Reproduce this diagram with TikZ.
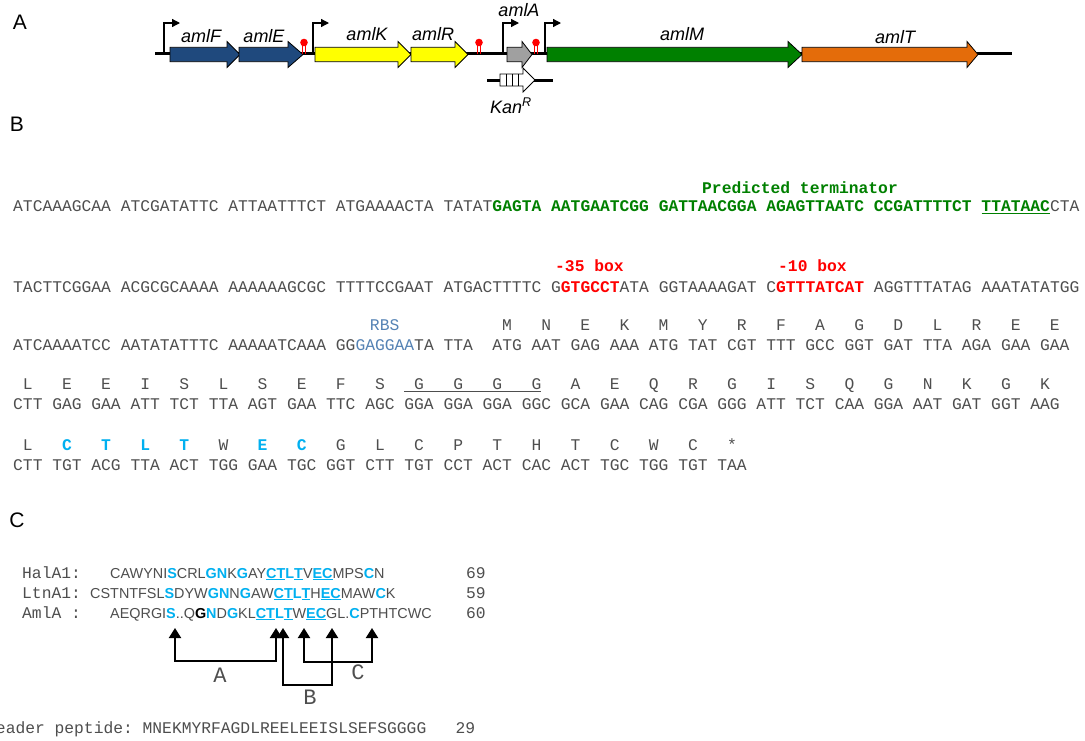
\documentclass[tikz,border=0pt]{standalone}
\usepackage{fontspec}
\setmainfont{Liberation Serif}
\setsansfont{Liberation Sans}
\setmonofont{Liberation Mono}
\usetikzlibrary{arrows.meta}
\definecolor{seqgray}{RGB}{78,78,78}
\definecolor{tgreen}{RGB}{0,128,0}
\definecolor{tred}{RGB}{255,0,0}
\definecolor{aablue}{RGB}{0,176,240}
\definecolor{rbsblue}{RGB}{84,130,180}
\definecolor{genblue}{RGB}{31,73,125}
\definecolor{genyellow}{RGB}{255,255,0}
\definecolor{gengray}{RGB}{160,160,160}
\definecolor{gengreen}{RGB}{0,128,0}
\definecolor{genorange}{RGB}{228,108,10}
\newcommand\seqfont{\ttfamily\fontsize{16.3}{18}\selectfont}
\newcommand\alnfont{\sffamily\fontsize{14.4}{16}\selectfont}
\newcommand\gr[1]{{\color{tgreen}\bfseries #1}}
\newcommand\rd[1]{{\color{tred}\bfseries #1}}
\newcommand\rb[1]{{\color{rbsblue}#1}}
\newcommand\bl[1]{{\color{aablue}\bfseries #1}}
\newcommand\genearrow[4]{\filldraw[fill=#4, draw=black, line width=0.8pt] (#1,47.3) -- (#2,47.3) -- (#2,41.5) -- (#3,54.5) -- (#2,67.5) -- (#2,61.7) -- (#1,61.7) -- cycle;}
\newcommand\termin[1]{\draw[tred, line width=0.9pt] (#1-1.3,54) -- (#1-1.3,44) (#1+1.3,54) -- (#1+1.3,44); \fill[tred] (#1,42.5) circle (3.8);}
\newcommand\prom[1]{\draw[line width=1.3pt, -{Triangle[length=8pt,width=8pt]}] (#1,53) -- (#1,23) -- (#1+16,23);}
\begin{document}
\begin{tikzpicture}[x=1pt,y=-1pt,
  seqtext/.style={font=\seqfont, text=seqgray, anchor=base west, inner sep=0pt},
  alntext/.style={font=\alnfont, text=seqgray, anchor=base west, inner sep=0pt},
  paneltag/.style={font=\sffamily\fontsize{21}{24}\selectfont, inner sep=0pt},
  genelabel/.style={font=\sffamily\itshape\fontsize{18}{20}\selectfont, anchor=base, inner sep=0pt},
  brlabel/.style={font=\ttfamily\fontsize{22}{24}\selectfont, text=seqgray, inner sep=0pt},
  bridge/.style={line width=2pt, {Triangle[width=12pt,length=10pt]}-{Triangle[width=12pt,length=10pt]}}]
\fill[white] (0,0) rectangle (1085,740);
\useasboundingbox (0,0) rectangle (1085,740);
% panel tags
\node[paneltag] (pA) at (20,22) {A};
\node[paneltag] (pB) at (17,124) {B};
\node[paneltag] (pC) at (17,520) {C};
% ---------- Panel A ----------
\draw[line width=3pt] (155,53.5) -- (1012,53.5);
\genearrow{170}{227}{240}{genblue}
\genearrow{239}{288}{303}{genblue}
\genearrow{315}{398}{411}{genyellow}
\genearrow{411}{455}{468}{genyellow}
\genearrow{507}{522}{532}{gengray}
\genearrow{547}{788}{802}{gengreen}
\genearrow{802}{967}{978}{genorange}
\termin{304}
\termin{479}
\termin{536}
\prom{164}
\prom{313}
\prom{503}
\prom{545}
\draw[line width=3pt] (487,80) -- (553,80);
\filldraw[fill=white, draw=black, line width=0.8pt] (500,74) -- (523,74) -- (523,68) -- (535,80) -- (523,92) -- (523,86) -- (500,86) -- cycle;
\draw[line width=0.8pt] (506,74) -- (506,86) (512,74) -- (512,86) (518,74) -- (518,86);
\node[genelabel] (lF) at (201,42.5) {amlF};
\node[genelabel] (lE) at (264,42.5) {amlE};
\node[genelabel] (lK) at (367,40) {amlK};
\node[genelabel] (lR) at (433,40) {amlR};
\node[genelabel] (lA) at (519,16) {amlA};
\node[genelabel] (lM) at (682,40) {amlM};
\node[genelabel] (lT) at (895,43) {amlT};
\node[genelabel] (lKan) at (511,113) {Kan\textsuperscript{R}};
% ---------- Panel B ----------
\node[seqtext, anchor=base, text=tgreen, font=\seqfont\bfseries] (pt) at (800,193) {Predicted terminator};
\node[seqtext] (s1) at (13,211.5) {ATCAAAGCAA ATCGATATTC ATTAATTTCT ATGAAAACTA TATAT\gr{GAGTA AATGAATCGG GATTAACGGA AGAGTTAATC CCGATTTTCT \underline{TTATAAC}}CTA};
\node[seqtext, text=tred, font=\seqfont\bfseries] (b35) at (555,271) {-35 box};
\node[seqtext, text=tred, font=\seqfont\bfseries] (b10) at (778,271) {-10 box};
\node[seqtext] (s2) at (13,292.5) {TACTTCGGAA ACGCGCAAAA AAAAAAGCGC TTTTCCGAAT ATGACTTTTC G\rd{GTGCCT}ATA GGTAAAAGAT C\rd{GTTTATCAT} AGGTTTATAG AAATATATGG};
\node[seqtext, anchor=base, text=rbsblue] (rbs) at (13+38*9.78,330.5) {RBS};
\node[seqtext] (a3) at (13+50*9.78,330.5) {M~~~N~~~E~~~K~~~M~~~Y~~~R~~~F~~~A~~~G~~~D~~~L~~~R~~~E~~~E};
\node[seqtext] (s3) at (13,350.5) {ATCAAAATCC AATATATTTC AAAAATCAAA GG\rb{GAGGAA}TA TTA~~ATG AAT GAG AAA ATG TAT CGT TTT GCC GGT GAT TTA AGA GAA GAA};
\node[seqtext] (a4) at (13,389.5) {~L~~~E~~~E~~~I~~~S~~~L~~~S~~~E~~~F~~~S~~\underline{~G~~~G~~~G~~~G}~~~A~~~E~~~Q~~~R~~~G~~~I~~~S~~~Q~~~G~~~N~~~K~~~G~~~K};
\node[seqtext] (s4) at (13,409) {CTT GAG GAA ATT TCT TTA AGT GAA TTC AGC GGA GGA GGA GGC GCA GAA CAG CGA GGG ATT TCT CAA GGA AAT GAT GGT AAG};
\node[seqtext] (a5) at (13,450.5) {~L~~~\bl{C~~~T~~~L~~~T}~~~W~~~\bl{E~~~C}~~~G~~~L~~~C~~~P~~~T~~~H~~~T~~~C~~~W~~~C~~~*};
\node[seqtext] (s5) at (13,470) {CTT TGT ACG TTA ACT TGG GAA TGC GGT CTT TGT CCT ACT CAC ACT TGC TGG TGT TAA};
% ---------- Panel C ----------
\node[seqtext] (nH) at (22,578) {HalA1:};
\node[seqtext] (nL) at (22,598) {LtnA1:};
\node[seqtext] (nM) at (22,618) {AmlA :};
\node[alntext] (qH) at (110,578) {CAWYNI\bl{S}CRL\bl{GN}K\bl{G}AY\bl{\underline{CT}L\underline{T}}V\bl{\underline{EC}}MPS\bl{C}N};
\node[alntext] (qL) at (90,598) {CSTNTFSL\bl{S}DYW\bl{GN}N\bl{G}AW\bl{\underline{CT}L\underline{T}}H\bl{\underline{EC}}MAW\bl{C}K};
\node[alntext] (qM) at (110,618) {AEQRGI\bl{S}..Q{\color{black}\bfseries G}\bl{N}D\bl{G}KL\bl{\underline{CT}L\underline{T}}W\bl{\underline{EC}}GL.\bl{C}PTHTCWC};
\node[seqtext] (cH) at (466,578) {69};
\node[seqtext] (cL) at (466,598) {59};
\node[seqtext] (cM) at (466,618) {60};
\coordinate (tA1) at (175,628);
\coordinate (tA2) at (276,628);
\coordinate (tB1) at (283,628);
\coordinate (tB2) at (332,628);
\coordinate (tC1) at (304,628);
\coordinate (tC2) at (372,628);
\coordinate (yA) at (0,661);
\coordinate (yB) at (0,685);
\coordinate (yC) at (0,662);
\draw[bridge] (tA1) -- (tA1 |- yA) -| (tA2);
\draw[bridge] (tB1) -- (tB1 |- yB) -| (tB2);
\draw[bridge] (tC1) -- (tC1 |- yC) -| (tC2);
\node[brlabel] (bA) at (220,675) {A};
\node[brlabel] (bB) at (310,697) {B};
\node[brlabel] (bC) at (358,672) {C};
\node[seqtext] (lead) at (-14,733) {Leader~peptide:~MNEKMYRFAGDLREELEEISLSEFSGGGG~~~29};
\end{tikzpicture}
\end{document}
